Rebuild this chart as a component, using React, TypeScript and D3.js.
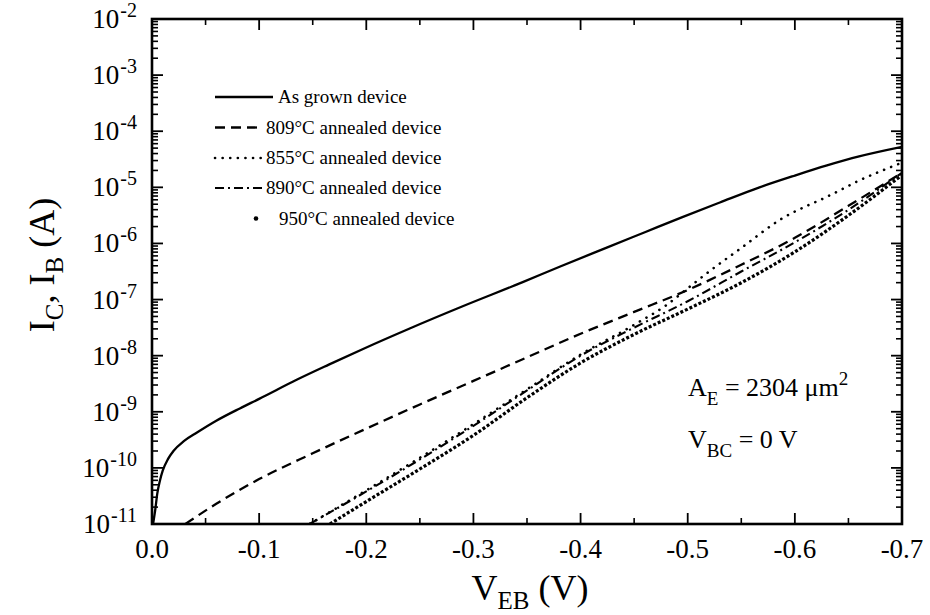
import React from 'react';
import * as d3 from 'd3';

// ---------- data (V_EB in volts, log10 of current in A) ----------
const asGrownV = [-0.001, -0.003, -0.005, -0.0075, -0.01, -0.015, -0.02, -0.03, -0.042, -0.06, -0.082, -0.1, -0.135, -0.165, -0.197, -0.24, -0.29, -0.346, -0.381, -0.425, -0.46, -0.495, -0.53, -0.567, -0.6, -0.63, -0.66, -0.7];
const asGrownLogI = [-11.0, -10.75, -10.45, -10.22, -10.05, -9.84, -9.7, -9.52, -9.37, -9.16, -8.94, -8.77, -8.43, -8.16, -7.88, -7.52, -7.12, -6.69, -6.41, -6.07, -5.8, -5.53, -5.27, -5.0, -4.79, -4.61, -4.45, -4.28];

const a809V = [-0.031, -0.06, -0.1, -0.15, -0.2, -0.25, -0.3, -0.35, -0.4, -0.45, -0.5, -0.55, -0.6, -0.65, -0.7];
const a809LogI = [-11.0, -10.64, -10.2, -9.74, -9.3, -8.87, -8.45, -8.03, -7.61, -7.22, -6.83, -6.38, -5.9, -5.33, -4.74];

const a855V = [-0.147, -0.2, -0.25, -0.3, -0.35, -0.4, -0.45, -0.48, -0.5, -0.52, -0.55, -0.586, -0.633, -0.66, -0.7];
const a855LogI = [-11.0, -10.4, -9.82, -9.22, -8.6, -7.98, -7.45, -7.1, -6.8, -6.5, -6.08, -5.58, -5.14, -4.88, -4.56];

const a890V = [-0.147, -0.2, -0.25, -0.3, -0.35, -0.4, -0.45, -0.5, -0.55, -0.6, -0.65, -0.7];
const a890LogI = [-11.0, -10.42, -9.85, -9.25, -8.62, -8.0, -7.5, -7.03, -6.5, -5.98, -5.4, -4.74];

const a950V = [-0.166, -0.2, -0.25, -0.3, -0.35, -0.4, -0.45, -0.5, -0.55, -0.6, -0.65, -0.7];
const a950LogI = [-11.0, -10.6, -10.02, -9.42, -8.75, -8.13, -7.62, -7.17, -6.7, -6.15, -5.5, -4.78];

const xTickValues = [0, -0.1, -0.2, -0.3, -0.4, -0.5, -0.6, -0.7];
const xTickLabels = ['0.0', '-0.1', '-0.2', '-0.3', '-0.4', '-0.5', '-0.6', '-0.7'];
const xMinorValues = [-0.05, -0.15, -0.25, -0.35, -0.45, -0.55, -0.65];
const yTickExponents = [-11, -10, -9, -8, -7, -6, -5, -4, -3, -2];

const legendLabels = ['As grown device', '809°C annealed device', '855°C annealed device', '890°C annealed device', '950°C annealed device'];

// ---------- layout ----------
const W = 930;
const H = 615;
const M = { left: 152, right: 902, top: 19, bottom: 524 };
const FONT = 'Liberation Serif, Times New Roman, Times, serif';

const zip = (v: number[], l: number[]): [number, number][] => v.map((d, i) => [d, l[i]]);

export default function App() {
  const x = d3.scaleLinear().domain([0, -0.7]).range([M.left, M.right]);
  const y = d3.scaleLog().domain([1e-11, 1e-2]).range([M.bottom, M.top]);
  const line = d3
    .line<[number, number]>()
    .x((d) => x(d[0]))
    .y((d) => y(Math.pow(10, d[1])))
    .curve(d3.curveMonotoneX);

  const series = [
    { data: zip(asGrownV, asGrownLogI), dash: undefined as string | undefined, width: 2.3, cap: 'butt' },
    { data: zip(a809V, a809LogI), dash: '10 6', width: 2.3, cap: 'butt' },
    { data: zip(a855V, a855LogI), dash: '0.1 7.5', width: 2.6, cap: 'round' },
    { data: zip(a890V, a890LogI), dash: '9 4 2 4', width: 2.1, cap: 'butt' },
    { data: zip(a950V, a950LogI), dash: '3 2', width: 3.2, cap: 'butt' },
  ];

  const yMinor: number[] = [];
  for (let e = -11; e < -2; e++) for (let k = 2; k <= 9; k++) yMinor.push(k * Math.pow(10, e));

  const legendY = [97, 127.5, 158, 188, 218.5];
  const legendTextX = [278, 266, 266, 266, 279];
  const legendLineEnd = [273, 258, 262, 263, 0];

  return (
    <svg width={W} height={H} style={{ position: 'absolute', left: 0, top: 0, background: '#fff', fontFamily: FONT }}>
      <defs>
        <clipPath id="plot">
          <rect x={M.left} y={M.top} width={M.right - M.left} height={M.bottom - M.top} />
        </clipPath>
      </defs>
      <rect x={0} y={0} width={W} height={H} fill="#fff" />

      {/* curves */}
      <g clipPath="url(#plot)">
        {series.map((s, i) => (
          <path key={i} d={line(s.data) || ''} fill="none" stroke="#000" strokeWidth={s.width} strokeDasharray={s.dash} strokeLinecap={s.cap as any} />
        ))}
      </g>

      {/* frame */}
      <rect x={M.left} y={M.top} width={M.right - M.left} height={M.bottom - M.top} fill="none" stroke="#000" strokeWidth={2.6} />

      {/* x ticks */}
      {xTickValues.map((v, i) => (
        <g key={'xt' + i}>
          <line x1={x(v)} x2={x(v)} y1={M.bottom} y2={M.bottom - 11} stroke="#000" strokeWidth={1.8} />
          <line x1={x(v)} x2={x(v)} y1={M.top} y2={M.top + 11} stroke="#000" strokeWidth={1.8} />
          <text x={x(v)} y={558} textAnchor="middle" fontSize={27} fontFamily={FONT}>{xTickLabels[i]}</text>
        </g>
      ))}
      {xMinorValues.map((v, i) => (
        <g key={'xm' + i}>
          <line x1={x(v)} x2={x(v)} y1={M.bottom} y2={M.bottom - 6} stroke="#000" strokeWidth={1.6} />
          <line x1={x(v)} x2={x(v)} y1={M.top} y2={M.top + 6} stroke="#000" strokeWidth={1.6} />
        </g>
      ))}

      {/* y ticks */}
      {yTickExponents.map((e) => {
        const yy = y(Math.pow(10, e));
        return (
          <g key={'yt' + e}>
            <line x1={M.left} x2={M.left + 11} y1={yy} y2={yy} stroke="#000" strokeWidth={1.8} />
            <line x1={M.right} x2={M.right - 11} y1={yy} y2={yy} stroke="#000" strokeWidth={1.8} />
            <text x={137} y={yy + 9} textAnchor="end" fontSize={27} fontFamily={FONT}>
              10<tspan dx={1} dy={-11} fontSize={20}>{String(e)}</tspan>
            </text>
          </g>
        );
      })}
      {yMinor.map((v, i) => {
        const yy = y(v);
        return (
          <g key={'ym' + i}>
            <line x1={M.left} x2={M.left + 6} y1={yy} y2={yy} stroke="#000" strokeWidth={1.6} />
            <line x1={M.right} x2={M.right - 6} y1={yy} y2={yy} stroke="#000" strokeWidth={1.6} />
          </g>
        );
      })}

      {/* axis titles */}
      <text x={530} y={600} textAnchor="middle" fontSize={36} fontFamily={FONT}>
        V<tspan dy={9} fontSize={25}>EB</tspan><tspan dy={-9}> (V)</tspan>
      </text>
      <text transform="translate(54,265) rotate(-90)" textAnchor="middle" fontSize={36} fontFamily={FONT}>
        I<tspan dy={9} fontSize={25}>C</tspan><tspan dy={-9}>, I</tspan><tspan dy={9} fontSize={25}>B</tspan><tspan dy={-9}> (A)</tspan>
      </text>

      {/* legend */}
      {series.map((s, i) => (
        <g key={'lg' + i}>
          {i < 4 ? (
            <line x1={215} x2={legendLineEnd[i]} y1={legendY[i]} y2={legendY[i]} stroke="#000" strokeWidth={s.width} strokeDasharray={s.dash} strokeLinecap={s.cap as any} />
          ) : (
            <circle cx={256} cy={legendY[i]} r={2.3} fill="#000" />
          )}
          <text x={legendTextX[i]} y={legendY[i] + 6} fontSize={19} fontFamily={FONT}>{legendLabels[i]}</text>
        </g>
      ))}

      {/* annotations */}
      <text x={688} y={396} fontSize={26} fontFamily={FONT}>
        A<tspan dy={9} fontSize={19}>E</tspan><tspan dy={-9}> = 2304 μm</tspan><tspan dy={-11} fontSize={19}>2</tspan>
      </text>
      <text x={688} y={448} fontSize={26} fontFamily={FONT}>
        V<tspan dy={9} fontSize={19}>BC</tspan><tspan dy={-9}> = 0 V</tspan>
      </text>
    </svg>
  );
}
